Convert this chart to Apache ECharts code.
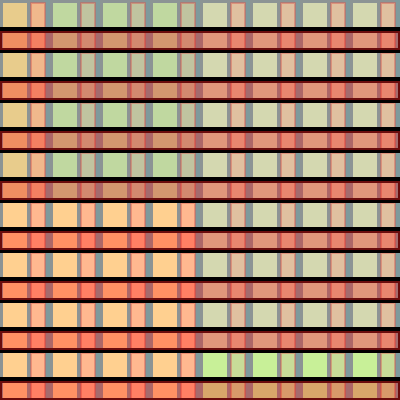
<!DOCTYPE html>
<html>
<head>
<meta charset="utf-8">
<script src="https://cdn.jsdelivr.net/npm/echarts@6/dist/echarts.min.js"></script>
<style>html,body{margin:0;padding:0;background:#fff}#c{width:400px;height:400px}</style>
</head>
<body>
<div id="c"></div>
<script>
// categories
const xCategories = ['C1','C2','C3','C4','C5','C6','C7','C8'];
const yCategories = ['R1','R2','R3','R4','R5','R6','R7','R8'];
// region value per cell, row by row (top to bottom)
const row1 = [0,1,1,1,2,2,2,2];
const row2 = [0,1,1,1,2,2,2,2];
const row3 = [0,1,1,1,2,2,2,2];
const row4 = [0,1,1,1,2,2,2,2];
const row5 = [3,3,3,3,2,2,2,2];
const row6 = [3,3,3,3,2,2,2,2];
const row7 = [3,3,3,3,2,2,2,2];
const row8 = [3,3,3,3,4,4,4,4];
const rows = [row1,row2,row3,row4,row5,row6,row7,row8];

// palette: [wide column colour, narrow column colour]
const palette = [
  ['#e8cc8c','#f0b88c'],
  ['#c0d8a0','#c0c4a0'],
  ['#d4d8b0','#e0c0a0'],
  ['#ffd090','#ffb890'],
  ['#c8f098','#c8dc98']
];
const SEP = '#8c9494';
const SEP2 = '#7e9a9c';

const cellData = [];
rows.forEach((r, j) => r.forEach((v, i) => cellData.push([i, j, v])));
const bandData = yCategories.map((_, j) => [j]);

function renderCell(params, api) {
  const c = api.coord([api.value(0), api.value(1)]);
  const s = api.size([1, 1]);
  const w = s[0], h = s[1];
  const k = w / 50;
  const x0 = c[0] - w / 2, y0 = c[1] - h / 2;
  const pal = palette[api.value(2)];
  return {
    type: 'group',
    children: [
      {type: 'rect', shape: {x: x0, y: y0, width: w, height: h}, style: {fill: SEP}},
      {type: 'rect', shape: {x: x0 + 45 * k, y: y0, width: 5 * k, height: h}, style: {fill: SEP2}},
      {type: 'rect', shape: {x: x0 + 3 * k, y: y0 + 3 * k, width: 24 * k, height: h - 3 * k}, style: {fill: pal[0]}},
      {type: 'rect', shape: {x: x0 + 31 * k, y: y0 + 3 * k, width: 14 * k, height: h - 3 * k},
        style: {fill: pal[1], stroke: 'rgba(215,90,80,0.45)', lineWidth: 2 * k}}
    ]
  };
}

function renderBand(params, api) {
  const cs = params.coordSys;
  const c = api.coord([0, api.value(0)]);
  const s = api.size([1, 1]);
  const h = s[1];
  const k = h / 50;
  const y0 = c[1] - h / 2;
  return {
    type: 'group',
    children: [
      {type: 'rect', shape: {x: cs.x, y: y0 + 27 * k, width: cs.width, height: 4 * k}, style: {fill: '#000'}},
      {type: 'rect', shape: {x: cs.x, y: y0 + 50 * k, width: cs.width, height: 3 * k}, style: {fill: '#000'}},
      {type: 'rect', shape: {x: cs.x + 1 * k, y: y0 + 32 * k, width: cs.width - 2 * k, height: 17 * k},
        style: {fill: 'rgba(255,0,0,0.3)', stroke: '#6a0c0c', lineWidth: 2 * k}}
    ]
  };
}

const chart = echarts.init(document.getElementById('c'), null, {renderer: 'canvas'});
chart.setOption({
  animation: false,
  grid: {left: 0, right: 0, top: 0, bottom: 0},
  xAxis: {type: 'category', data: xCategories, show: false},
  yAxis: {type: 'category', data: yCategories, inverse: true, show: false},
  series: [
    {type: 'custom', renderItem: renderCell, data: cellData, clip: true},
    {type: 'custom', renderItem: renderBand, data: bandData, clip: true, encode: {y: 0}}
  ]
});
</script>
</body>
</html>
